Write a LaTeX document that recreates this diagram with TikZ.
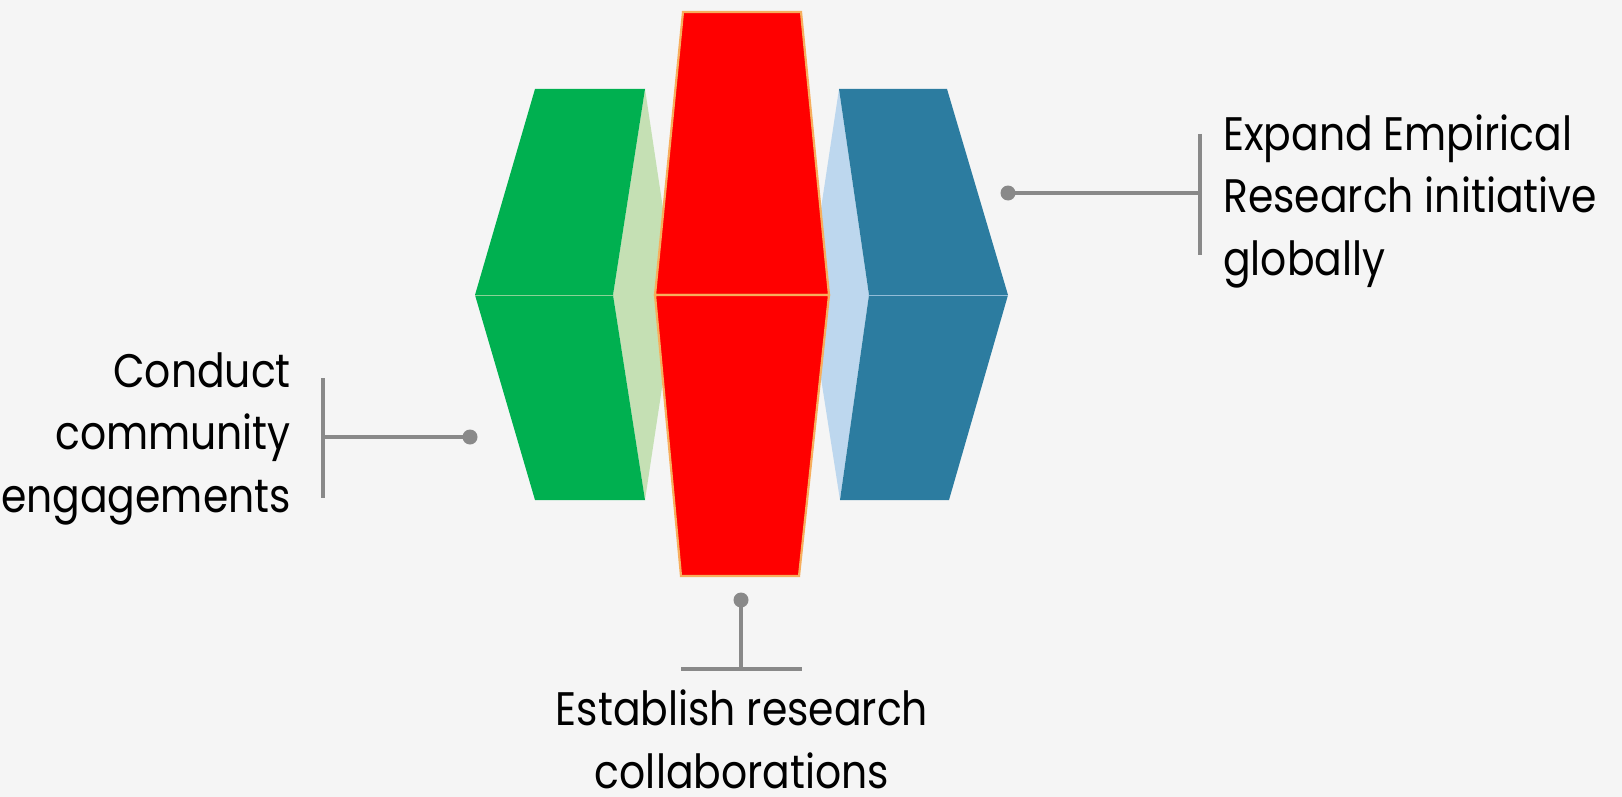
\documentclass[tikz,border=0pt]{standalone}
\usepackage{fontspec}
\setmainfont{Poppins}[FakeStretch=0.87]
\usetikzlibrary{calc,positioning}

\definecolor{paper}{HTML}{F5F5F5}
\definecolor{leafgreen}{HTML}{00B050}
\definecolor{palegreen}{HTML}{C5E0B4}
\definecolor{brickred}{HTML}{FF0000}
\definecolor{rimorange}{HTML}{F7AE5C}
\definecolor{seablue}{HTML}{2C7CA0}
\definecolor{paleblue}{HTML}{BDD7EE}
\definecolor{pingray}{HTML}{898989}

\begin{document}
\begin{tikzpicture}[x=1pt,y=-1pt,
    pin line/.style={draw=pingray,line width=3.5pt},
    pin dot/.style={circle,fill=pingray,inner sep=0pt,minimum size=15pt},
    goal/.style={inner sep=0pt,font=\fontsize{47}{62.5}\selectfont}]

    % page
    \fill[paper] (0,0) rectangle (1622,797);
    \useasboundingbox (0,0) rectangle (1622,797);

    % side faces
    \fill[palegreen] (645,89) -- (676,295) -- (645,500) -- (613,295) -- cycle;
    \fill[paleblue] (839,89) -- (808,295) -- (840,500) -- (869,295) -- cycle;

    % left and right blocks
    \fill[leafgreen] (535,89) -- (645,89) -- (613,295) -- (645,500) -- (535,500) -- (475,295) -- cycle;
    \fill[seablue] (839,89) -- (947,89) -- (1008,295) -- (949,500) -- (840,500) -- (869,295) -- cycle;
    \draw[palegreen!70!leafgreen,line width=1pt] (475,295) -- (613,295);
    \draw[paleblue!70!seablue,line width=1pt] (869,295) -- (1008,295);

    % middle block
    \filldraw[fill=brickred,draw=rimorange,line width=2.2pt] (683,12) -- (801,12) -- (829,295) -- (655,295) -- cycle;
    \filldraw[fill=brickred,draw=rimorange,line width=2.2pt] (655,295) -- (829,295) -- (799,576) -- (681,576) -- cycle;

    % labels (base = last line)
    \node (conduct) [goal,align=right,anchor=base east] at (291,512) {Conduct\\community\\engagements};
    \node (expand) [goal,align=left,anchor=base west] at (1223,275) {Expand Empirical\\Research initiative\\globally};
    \node (establish) [goal,align=center,anchor=base] at (742,788) {Establish research\\collaborations};

    % pins
    \node (dotL) [pin dot] at (470,437) {};
    \node (dotR) [pin dot] at (1008,193) {};
    \node (dotB) [pin dot] at (741,600) {};
    \coordinate (barL) at (323,437);
    \coordinate (barR) at (1200,193);
    \coordinate (barB) at (741,669);

    \draw[pin line] (dotL.center) -- (barL);
    \draw[pin line] ($(barL)+(0,-59)$) -- ($(barL)+(0,61)$);
    \draw[pin line] (dotR.center) -- (barR);
    \draw[pin line] ($(barR)+(0,-59)$) -- ($(barR)+(0,62)$);
    \draw[pin line] (dotB.center) -- (barB);
    \draw[pin line] ($(barB)+(-60,0)$) -- ($(barB)+(61,0)$);
\end{tikzpicture}
\end{document}
